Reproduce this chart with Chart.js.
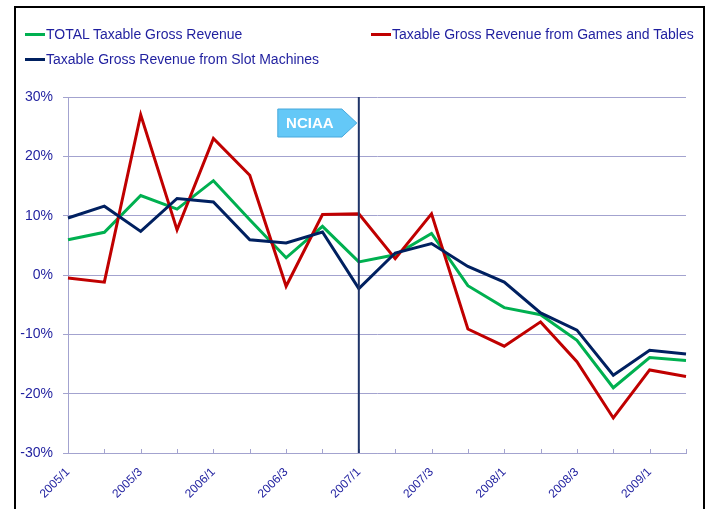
<!DOCTYPE html>
<html lang="en">
<head>
  <meta charset="UTF-8" />
  <title>Taxable Gross Revenue growth</title>
  <script src="https://cdn.jsdelivr.net/npm/chart.js"></script>
  <style>
    body {
      margin: 0;
      padding: 0;
      background: #fff;
      font-family: 'Liberation Sans', Arial, sans-serif;
    }
    #wrap {
      position: relative;
      width: 712px;
      height: 509px;
      overflow: hidden;
    }
    #frame {
      position: absolute;
      left: 14px;
      top: 6px;
      width: 687px;
      height: 540px;
      border: 2px solid #000;
    }
    .item {
      position: absolute;
      font-size: 14px;
      color: #1f1f9f;
      white-space: nowrap;
      line-height: 16px;
    }
    .item span {
      display: inline-block;
      width: 20px;
      height: 3px;
      vertical-align: middle;
      margin-right: 1px;
      position: relative;
      top: -1px;
    }
    canvas {
      position: absolute;
      left: 0;
      top: 0;
    }
  </style>
</head>
<body>
  <div id="wrap">
    <div id="frame"></div>
    <canvas id="revChart" width="712" height="509"></canvas>
    <div id="legend"></div>
  </div>

  <script>
    // quarters 2005/1 .. 2009/2
    const quarters = ['2005/1', '2005/2', '2005/3', '2005/4', '2006/1', '2006/2', '2006/3', '2006/4',
      '2007/1', '2007/2', '2007/3', '2007/4', '2008/1', '2008/2', '2008/3', '2008/4', '2009/1', '2009/2'];

    const totalRevenue = [5.95, 7.2, 13.4, 11.1, 15.9, 9.3, 2.9, 8.2, 2.2, 3.4, 7.0, -1.8, -5.5, -6.7, -11.0, -19.0, -13.9, -14.4];
    const gamesTables = [-0.5, -1.2, 27.0, 7.6, 23.0, 16.8, -1.9, 10.2, 10.3, 2.75, 10.3, -9.1, -12.0, -7.9, -14.6, -24.1, -16.0, -17.1];
    const slotMachines = [9.6, 11.6, 7.35, 12.9, 12.3, 5.95, 5.4, 7.25, -2.3, 3.7, 5.3, 1.45, -1.2, -6.4, -9.3, -16.9, -12.7, -13.3];

    const seriesNames = ['TOTAL Taxable Gross Revenue', 'Taxable Gross Revenue from Games and Tables', 'Taxable Gross Revenue from Slot Machines'];
    const seriesColors = ['#00b050', '#c00000', '#002060'];

    const yTicks = [-30, -20, -10, 0, 10, 20, 30];
    const markerQuarter = '2007/1';
    const markerText = 'NCIAA';

    const textColor = '#1f1f9f';
    const gridColor = '#a3a3cf';

    // legend (html)
    const legendPos = [[25, 26], [371, 26], [25, 51]];
    const legend = document.getElementById('legend');
    seriesNames.forEach((name, i) => {
      const d = document.createElement('div');
      d.className = 'item';
      d.style.left = legendPos[i][0] + 'px';
      d.style.top = legendPos[i][1] + 'px';
      d.innerHTML = '<span style="background:' + seriesColors[i] + '"></span>' + name;
      legend.appendChild(d);
    });

    const innerTicks = {
      id: 'innerTicks',
      beforeDatasetsDraw(chart) {
        const x = chart.scales.x;
        const c = chart.ctx;
        c.save();
        c.strokeStyle = gridColor;
        c.lineWidth = 1;
        c.beginPath();
        quarters.forEach((q, i) => {
          const px = Math.round(x.getPixelForValue(i)) + 0.5;
          c.moveTo(px, chart.chartArea.bottom - 4);
          c.lineTo(px, chart.chartArea.bottom);
        });
        c.stroke();
        c.restore();
      }
    };

    const marker = {
      id: 'marker',
      afterDatasetsDraw(chart) {
        const c = chart.ctx;
        const area = chart.chartArea;
        const vx = chart.scales.x.getPixelForValue(quarters.indexOf(markerQuarter));
        c.save();
        c.strokeStyle = '#1f3468';
        c.lineWidth = 2;
        c.beginPath();
        c.moveTo(vx, area.top);
        c.lineTo(vx, area.bottom);
        c.stroke();

        const top = area.top + 12, bot = area.top + 40;
        c.beginPath();
        c.moveTo(vx - 81, top);
        c.lineTo(vx - 17, top);
        c.lineTo(vx - 2, (top + bot) / 2);
        c.lineTo(vx - 17, bot);
        c.lineTo(vx - 81, bot);
        c.closePath();
        c.fillStyle = '#64c8f7';
        c.fill();
        c.strokeStyle = '#47a8dc';
        c.lineWidth = 1;
        c.stroke();

        c.fillStyle = '#fff';
        c.font = 'bold 15px "Liberation Sans", Arial, sans-serif';
        c.textAlign = 'center';
        c.textBaseline = 'middle';
        c.fillText(markerText, vx - 49, (top + bot) / 2 + 1);
        c.restore();
      }
    };

    const ctx = document.getElementById('revChart').getContext('2d');
    const seriesData = [totalRevenue, gamesTables, slotMachines];

    new Chart(ctx, {
      type: 'line',
      data: {
        labels: quarters,
        datasets: seriesData.map((d, i) => ({
          label: seriesNames[i],
          data: d,
          borderColor: seriesColors[i],
          backgroundColor: seriesColors[i],
          borderWidth: 3,
          pointRadius: 0,
          tension: 0,
          fill: false,
          order: 3 - i
        }))
      },
      options: {
        responsive: false,
        animation: false,
        layout: { padding: { left: 0, top: 97, right: 26, bottom: 0 } },
        plugins: {
          legend: { display: false },
          tooltip: { enabled: false }
        },
        scales: {
          x: {
            offset: false,
            afterFit(s) { s.height = 56; },
            grid: { drawOnChartArea: false, drawTicks: false },
            border: { color: gridColor, width: 1 },
            ticks: {
              autoSkip: false,
              maxRotation: 45,
              minRotation: 45,
              padding: 12,
              color: textColor,
              font: { family: '"Liberation Sans", Arial, sans-serif', size: 12 },
              callback(v, i) { return i % 2 === 0 ? quarters[i] : ''; }
            }
          },
          y: {
            min: yTicks[0],
            max: yTicks[yTicks.length - 1],
            afterFit(s) { s.width = 68; },
            afterBuildTicks(s) { s.ticks = yTicks.map(v => ({ value: v })); },
            grid: { color: gridColor, lineWidth: 1, tickLength: 5 },
            border: { color: gridColor, width: 1 },
            ticks: {
              padding: 10,
              color: textColor,
              font: { family: '"Liberation Sans", Arial, sans-serif', size: 14 },
              callback(v) { return v + '%'; }
            }
          }
        }
      },
      plugins: [innerTicks, marker]
    });
  </script>
</body>
</html>
